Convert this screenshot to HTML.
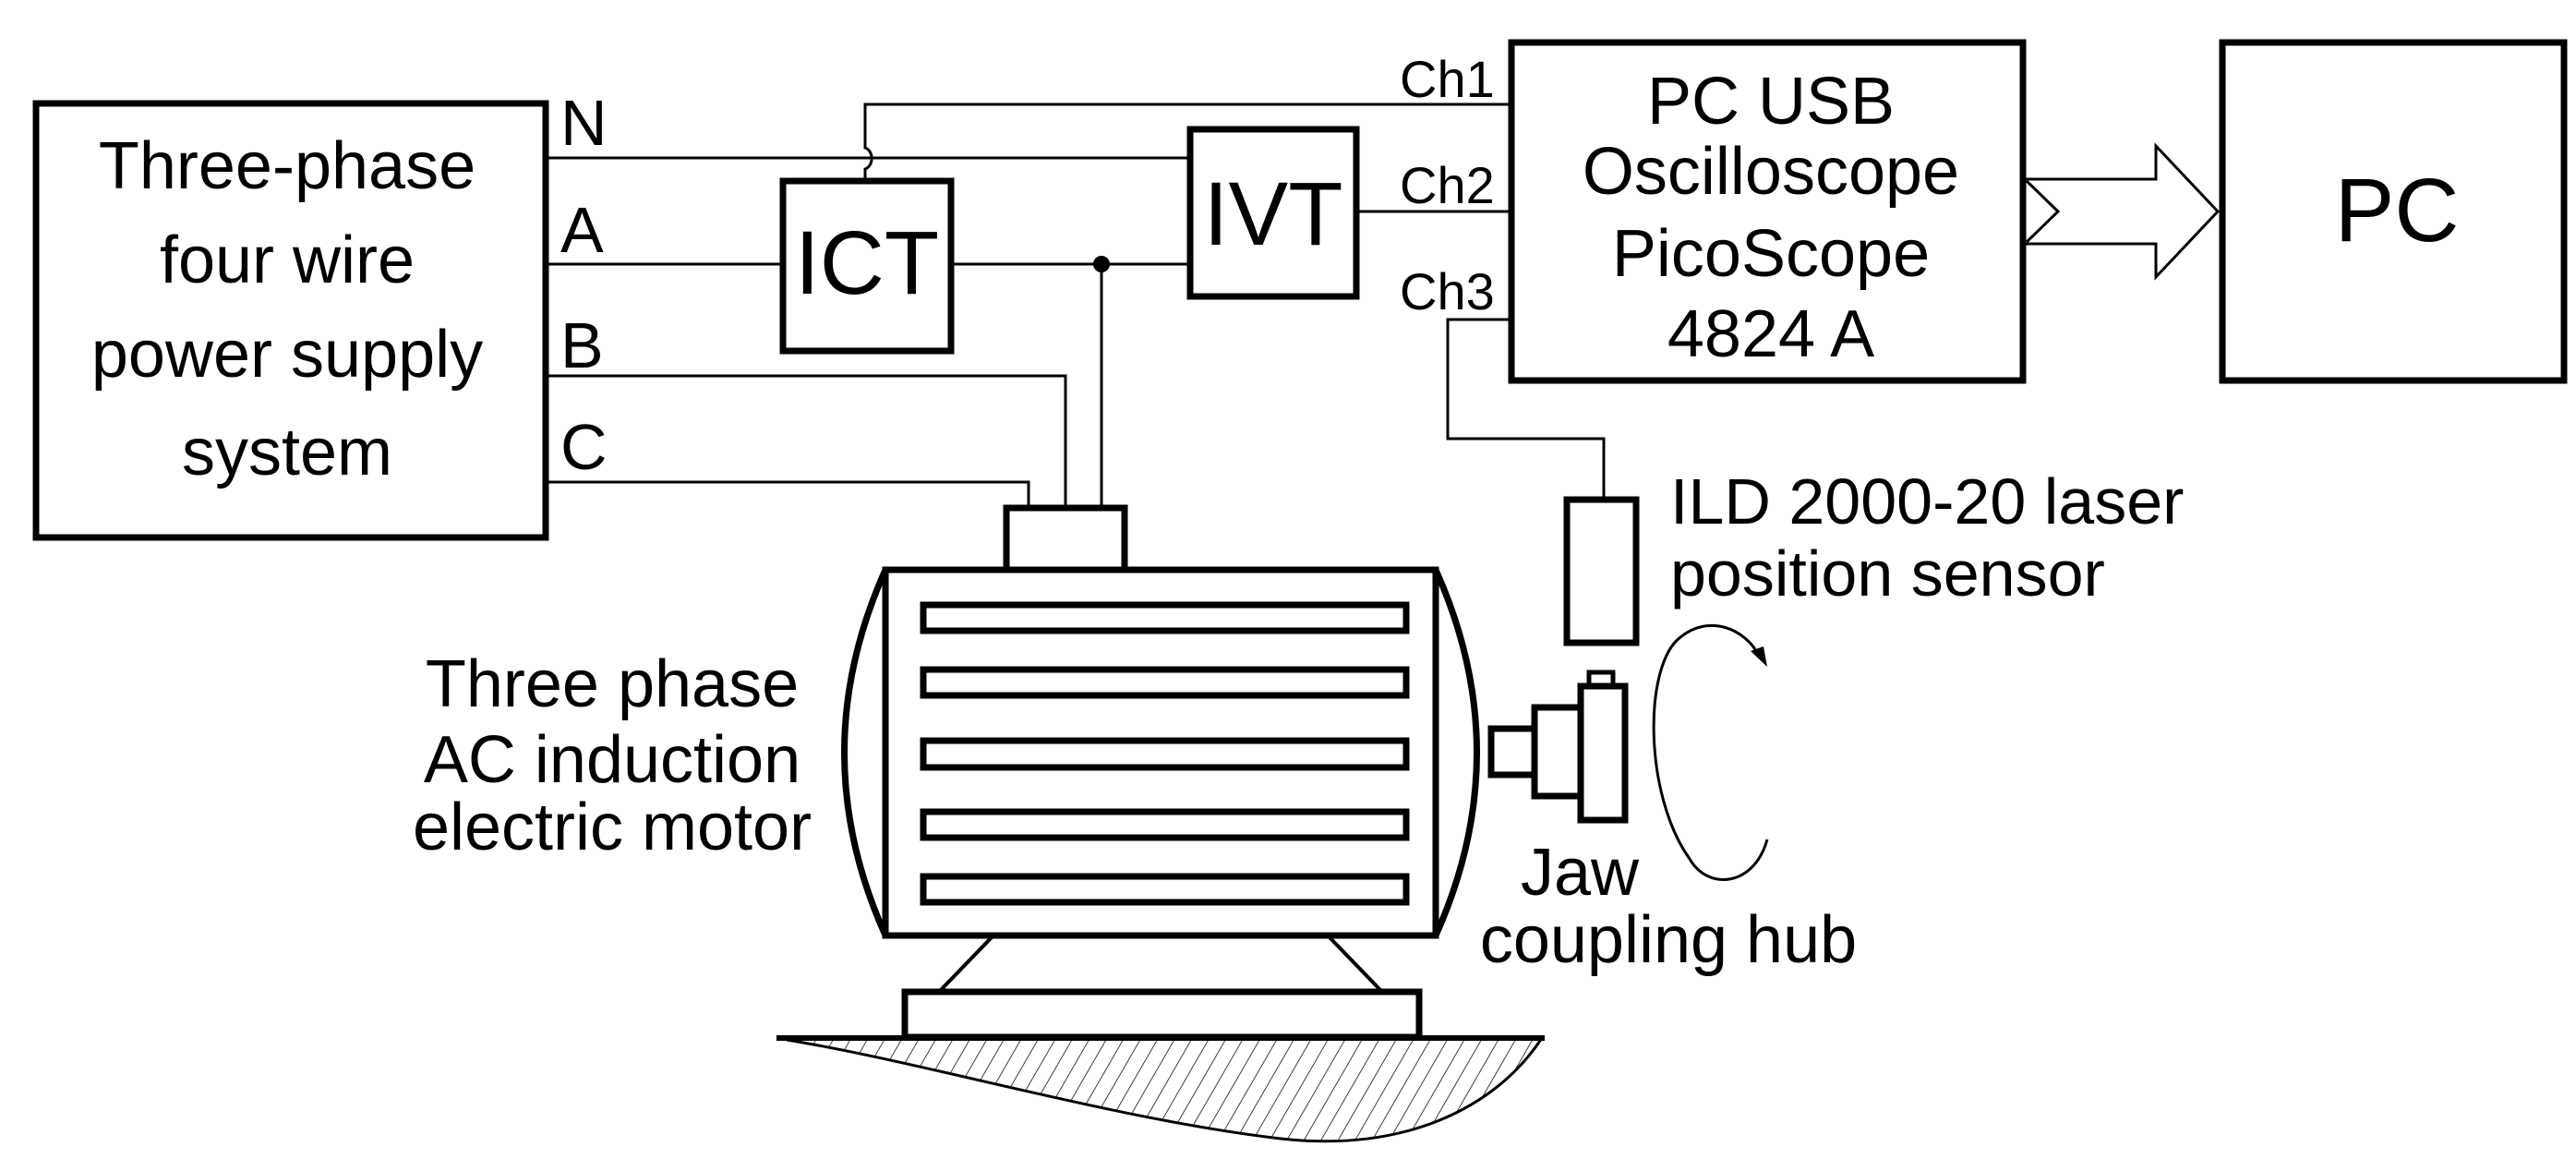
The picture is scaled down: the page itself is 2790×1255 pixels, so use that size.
<!DOCTYPE html>
<html><head><meta charset="utf-8"><style>html,body{margin:0;padding:0;background:#fff}svg{display:block}</style></head>
<body>
<svg width="2790" height="1255" viewBox="0 0 2790 1255" xmlns="http://www.w3.org/2000/svg" font-family="Liberation Sans, Arial, sans-serif" fill="#000">
<defs>
<pattern id="hatch" patternUnits="userSpaceOnUse" width="16" height="16" patternTransform="rotate(30)">
<line x1="0" y1="0" x2="0" y2="16" stroke="#000" stroke-width="1.5"/>
</pattern>
</defs>
<g fill="none" stroke="#000">
<!-- boxes -->
<rect x="39" y="112" width="552" height="470" stroke-width="7"/>
<rect x="848" y="196" width="182" height="184" stroke-width="7"/>
<rect x="1289" y="140" width="180" height="181" stroke-width="7"/>
<rect x="1637" y="46" width="554" height="366" stroke-width="7"/>
<rect x="2407" y="46" width="370" height="366" stroke-width="7"/>
<rect x="1697" y="541" width="75" height="155" stroke-width="7"/>
<!-- wires -->
<g stroke-width="3">
<line x1="593" y1="171" x2="1289" y2="171"/>
<line x1="593" y1="286" x2="848" y2="286"/>
<line x1="1030" y1="286" x2="1289" y2="286"/>
<polyline points="593,407 1154,407 1154,548"/>
<polyline points="593,522 1114,522 1114,548"/>
<line x1="1193" y1="286" x2="1193" y2="548"/>
<path d="M937 196 L937 183 A10 12 0 0 0 937 160 L937 113 L1637 113"/>
<line x1="1469" y1="229" x2="1637" y2="229"/>
<polyline points="1637,346 1568,346 1568,475 1737,475 1737,541"/>
<!-- big arrow -->
<path d="M2193 194 L2335 194 L2335 158 L2402 229 L2335 300 L2335 264 L2193 264"/>
<polyline points="2195,196 2229,229 2195,262"/>
</g>
<!-- motor -->
<g stroke-width="7">
<rect x="1090" y="550" width="128" height="67"/>
<rect x="959" y="617" width="596" height="396"/>
<path d="M959 617 Q870 815 959 1013"/>
<path d="M1555 617 Q1644 815 1555 1013"/>
<rect x="1000" y="655" width="523" height="28"/>
<rect x="1000" y="725" width="523" height="28"/>
<rect x="1000" y="802" width="523" height="29"/>
<rect x="1000" y="879" width="523" height="28"/>
<rect x="1000" y="949" width="523" height="28"/>
<line x1="1075" y1="1014" x2="1017" y2="1074" stroke-width="4"/>
<line x1="1439" y1="1014" x2="1497" y2="1074" stroke-width="4"/>
<rect x="980" y="1074" width="557" height="49"/>
<rect x="1615" y="789" width="47" height="50"/>
<rect x="1662" y="766" width="50" height="96"/>
<rect x="1712" y="743" width="48" height="145"/>
<rect x="1721" y="728" width="26" height="15" stroke-width="5"/>
</g>
<path d="M845 1124 L1670 1124 C1620 1200 1520 1250 1379 1232 C1200 1210 1000 1150 852 1126 Z" fill="url(#hatch)" stroke="none"/>
<line x1="841" y1="1124" x2="1673" y2="1124" stroke-width="6"/>
<path d="M852 1126 C1000 1150 1200 1210 1379 1232 C1520 1250 1620 1200 1670 1124" stroke-width="3"/>
<!-- rotation arrow -->
<path d="M1914 909 C1900 960 1850 965 1830 930 C1780 860 1780 720 1820 690 C1850 665 1890 680 1905 710" stroke-width="3"/>
</g>
<path d="M1914 722 L1896 705 L1910 700 Z"/>
<circle cx="1193" cy="286" r="9"/>
<!-- texts -->
<g font-size="72" text-anchor="middle">
<text x="311" y="204">Three-phase</text>
<text x="311" y="306">four wire</text>
<text x="311" y="408">power supply</text>
<text x="311" y="514">system</text>
<text x="1918" y="134">PC USB</text>
<text x="1918" y="210">Oscilloscope</text>
<text x="1918" y="299">PicoScope</text>
<text x="1918" y="386">4824 A</text>
<text x="663" y="765">Three phase</text>
<text x="663" y="847">AC induction</text>
<text x="663" y="920">electric motor</text>
<text x="1711" y="969">Jaw</text>
<text x="1807" y="1042">coupling hub</text>
</g>
<g font-size="70">
<text x="607" y="157">N</text>
<text x="607" y="273">A</text>
<text x="607" y="398">B</text>
<text x="607" y="508">C</text>
<text x="1809" y="567">ILD 2000-20 laser</text>
<text x="1809" y="645">position sensor</text>
</g>
<g font-size="97" text-anchor="middle">
<text x="939" y="318">ICT</text>
<text x="1379" y="265">IVT</text>
<text x="2596" y="261">PC</text>
</g>
<g font-size="56">
<text x="1516" y="105">Ch1</text>
<text x="1516" y="220">Ch2</text>
<text x="1516" y="335">Ch3</text>
</g>
</svg>
</body></html>
